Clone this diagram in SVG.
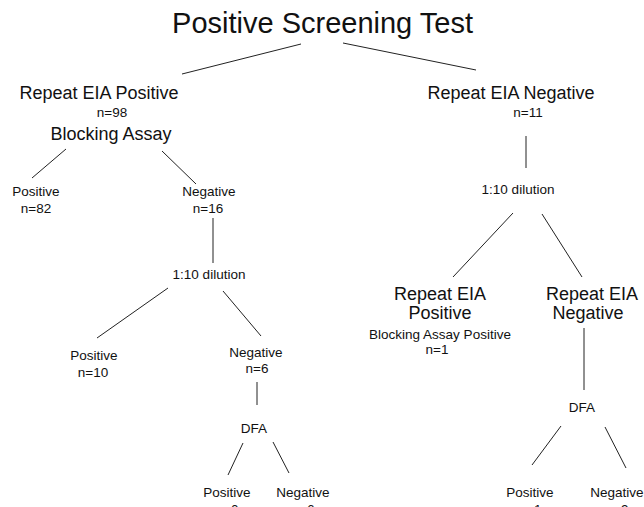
<svg xmlns="http://www.w3.org/2000/svg" width="644" height="507" viewBox="0 0 644 507">
<style>
text{font-family:"Liberation Sans",Arial,sans-serif;fill:#111;text-anchor:middle}
.t{font-size:29px}
.m{font-size:18px}
.s{font-size:13.5px}
.c line{stroke:#222;stroke-width:1}
</style>
<rect width="644" height="507" fill="#fff"/>
<g class="c" id="connectors">
<line x1="301" y1="44" x2="182" y2="74"/>
<line x1="343" y1="43" x2="476" y2="70"/>
<line x1="66" y1="149" x2="32" y2="178"/>
<line x1="162" y1="151" x2="196" y2="184"/>
<line x1="213" y1="218" x2="213" y2="263"/>
<line x1="168" y1="288" x2="97" y2="338"/>
<line x1="223" y1="291" x2="261" y2="336"/>
<line x1="257" y1="382" x2="257" y2="405"/>
<line x1="243" y1="443" x2="228" y2="475"/>
<line x1="273" y1="442" x2="289" y2="473"/>
<line x1="526" y1="136" x2="526" y2="168"/>
<line x1="513" y1="213" x2="453" y2="277"/>
<line x1="542" y1="214" x2="582" y2="277"/>
<line x1="584" y1="328" x2="584" y2="390"/>
<line x1="561" y1="426" x2="532" y2="465"/>
<line x1="605" y1="427" x2="626" y2="468"/>
</g>
<g id="title"><text class="t" x="322.5" y="33">Positive Screening Test</text></g>
<g id="repeatPos"><text class="m" x="99" y="99">Repeat EIA Positive</text><text class="s" x="112" y="117">n=98</text></g>
<g id="blocking"><text class="m" x="111" y="140">Blocking Assay</text></g>
<g id="blockPos"><text class="s" x="36" y="196">Positive</text><text class="s" x="36" y="213">n=82</text></g>
<g id="blockNeg"><text class="s" x="209" y="196">Negative</text><text class="s" x="208" y="213">n=16</text></g>
<g id="dilL"><text class="s" x="209" y="279">1:10 dilution</text></g>
<g id="dilLPos"><text class="s" x="94" y="360">Positive</text><text class="s" x="93" y="377">n=10</text></g>
<g id="dilLNeg"><text class="s" x="256" y="357">Negative</text><text class="s" x="257" y="373">n=6</text></g>
<g id="dfaL"><text class="s" x="254" y="433">DFA</text></g>
<g id="dfaLPos"><text class="s" x="227" y="497">Positive</text><text class="s" x="227" y="514">n=0</text></g>
<g id="dfaLNeg"><text class="s" x="303" y="497">Negative</text><text class="s" x="303" y="514">n=6</text></g>
<g id="repeatNeg"><text class="m" x="511" y="99">Repeat EIA Negative</text><text class="s" x="528" y="117">n=11</text></g>
<g id="dilR"><text class="s" x="518" y="194">1:10 dilution</text></g>
<g id="dilRPos"><text class="m" x="440" y="300">Repeat EIA</text><text class="m" x="440" y="319">Positive</text><text class="s" x="440" y="339">Blocking Assay Positive</text><text class="s" x="437" y="354">n=1</text></g>
<g id="dilRNeg"><text class="m" x="592" y="300">Repeat EIA</text><text class="m" x="588" y="319">Negative</text></g>
<g id="dfaR"><text class="s" x="582" y="412">DFA</text></g>
<g id="dfaRPos"><text class="s" x="530" y="497">Positive</text><text class="s" x="530" y="514">n=1</text></g>
<g id="dfaRNeg"><text class="s" x="617" y="497">Negative</text><text class="s" x="617" y="514">n=9</text></g>
</svg>
